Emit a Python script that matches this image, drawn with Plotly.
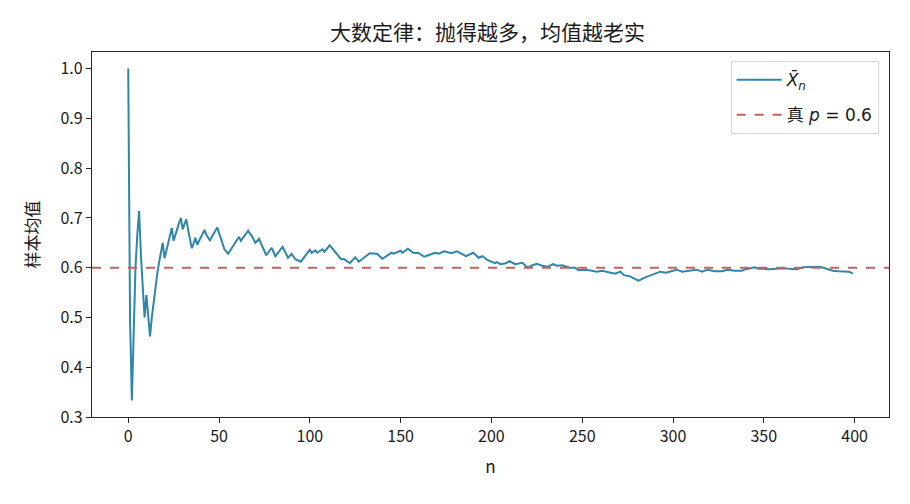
import plotly.graph_objects as go

# ── 数据（从图上读出的样本均值） ───────────────────────────────────────────
n_vals = [0, 1, 2, 3, 4, 5, 6, 7, 8, 9, 10, 11, 12, 13, 14, 15, 16, 17, 18, 19,
          20, 21, 22, 23, 24, 25, 26, 27, 28, 29, 30, 31, 32, 33, 34, 35, 36,
          37, 38, 42, 43, 45, 49, 53, 55, 61, 62, 66, 68, 70, 72, 76, 79, 81,
          85, 88, 90, 92, 95, 100, 101, 103, 104, 107, 108, 111, 117, 119, 122,
          125, 127, 133, 137, 140, 145, 146, 150, 151, 154, 157, 160, 163, 166,
          169, 171, 174, 178, 181, 186, 190, 193, 195, 198, 202, 203, 205, 208,
          210, 213, 217, 220, 222, 225, 228, 231, 234, 236, 239, 243, 246, 248,
          251, 254, 258, 261, 265, 268, 271, 273, 276, 278, 281, 285, 290, 293,
          296, 299, 302, 305, 309, 313, 316, 319, 323, 327, 330, 334, 338, 340,
          345, 347, 350, 353, 357, 361, 364, 368, 372, 376, 380, 382, 385, 388,
          391, 395, 397, 399]
xbar = [1.0, 0.5, 0.333, 0.5, 0.6, 0.667, 0.714, 0.625, 0.556, 0.5, 0.545, 0.5,
        0.462, 0.5, 0.533, 0.563, 0.588, 0.611, 0.632, 0.65, 0.619, 0.636, 0.652,
        0.667, 0.68, 0.654, 0.667, 0.679, 0.69, 0.7, 0.677, 0.688, 0.697, 0.676,
        0.657, 0.639, 0.649, 0.66, 0.646, 0.676, 0.666, 0.655, 0.681, 0.637,
        0.628, 0.662, 0.654, 0.674, 0.664, 0.65, 0.658, 0.625, 0.64, 0.623,
        0.642, 0.62, 0.628, 0.617, 0.612, 0.636, 0.63, 0.635, 0.63, 0.637,
        0.632, 0.645, 0.618, 0.617, 0.609, 0.621, 0.612, 0.629, 0.628, 0.618,
        0.63, 0.628, 0.634, 0.63, 0.638, 0.63, 0.629, 0.622, 0.626, 0.63, 0.628,
        0.633, 0.629, 0.633, 0.623, 0.63, 0.62, 0.623, 0.615, 0.609, 0.611,
        0.607, 0.609, 0.613, 0.607, 0.61, 0.6, 0.604, 0.608, 0.604, 0.602,
        0.607, 0.604, 0.605, 0.6, 0.6, 0.595, 0.596, 0.595, 0.592, 0.594,
        0.59, 0.588, 0.592, 0.585, 0.583, 0.579, 0.574, 0.581, 0.588, 0.592,
        0.59, 0.593, 0.596, 0.592, 0.594, 0.596, 0.592, 0.596, 0.593, 0.593,
        0.596, 0.594, 0.594, 0.597, 0.601, 0.598, 0.598, 0.597, 0.598, 0.599,
        0.598, 0.597, 0.601, 0.602, 0.602, 0.601, 0.597, 0.594, 0.593, 0.592,
        0.592, 0.588]
P_TRUE = 0.6

x_ticks = [0, 50, 100, 150, 200, 250, 300, 350, 400]
y_ticks = [0.3, 0.4, 0.5, 0.6, 0.7, 0.8, 0.9, 1.0]

# matplotlib 默认 5% 边距
x_pad = 0.05 * (max(n_vals) - min(n_vals))
y_pad = 0.05 * (max(xbar) - min(xbar))
x_range = [min(n_vals) - x_pad, max(n_vals) + x_pad]
y_range = [0.3, max(xbar) + y_pad]

FONT = "Noto Sans CJK SC, DejaVu Sans, sans-serif"

fig = go.Figure()

fig.add_trace(go.Scatter(
    x=n_vals, y=xbar,
    mode="lines",
    name="<i>X̄</i><sub><i>n</i></sub>",
    legendgroup="a",
    line=dict(color="#2e86ab", width=2),
))

fig.add_trace(go.Scatter(
    x=x_range, y=[P_TRUE, P_TRUE],
    mode="lines",
    name="真 <i>p</i> = 0.6",
    legendgroup="b",
    line=dict(color="#c1635f", width=2, dash="dash"),
))

axis_common = dict(
    showline=True, mirror=True, linecolor="#262626", linewidth=1.2,
    ticks="outside", ticklen=5, tickcolor="#262626",
    showgrid=False, zeroline=False,
    tickfont=dict(size=16, color="#1a1a1a"),
)

# 页面 body 有 8px 的默认外边距，这里把边距往回收
fig.update_layout(
    width=910, height=504,
    margin=dict(l=84, r=29, t=44, b=95),
    paper_bgcolor="white", plot_bgcolor="white",
    font=dict(family=FONT, color="#1a1a1a", size=17),
    title=dict(text="大数定律：抛得越多，均值越老实", x=0.527, xanchor="center",
               y=0.952, yanchor="middle", font=dict(size=21)),
    xaxis=dict(axis_common, range=x_range, tickvals=x_ticks,
               title=dict(text="n", font=dict(size=17), standoff=14)),
    yaxis=dict(axis_common, range=y_range, tickvals=y_ticks, tickformat=".1f",
               title=dict(text="样本均值", font=dict(size=17), standoff=16)),
    legend=dict(x=0.987, y=0.975, xanchor="right", yanchor="top",
                bgcolor="rgba(255,255,255,0.8)", bordercolor="#d6d6d6",
                borderwidth=1, font=dict(size=17, family="DejaVu Sans, Noto Sans CJK SC"),
                itemwidth=45, tracegroupgap=10, entrywidth=150),
    showlegend=True,
)

fig.write_html("out.html")
